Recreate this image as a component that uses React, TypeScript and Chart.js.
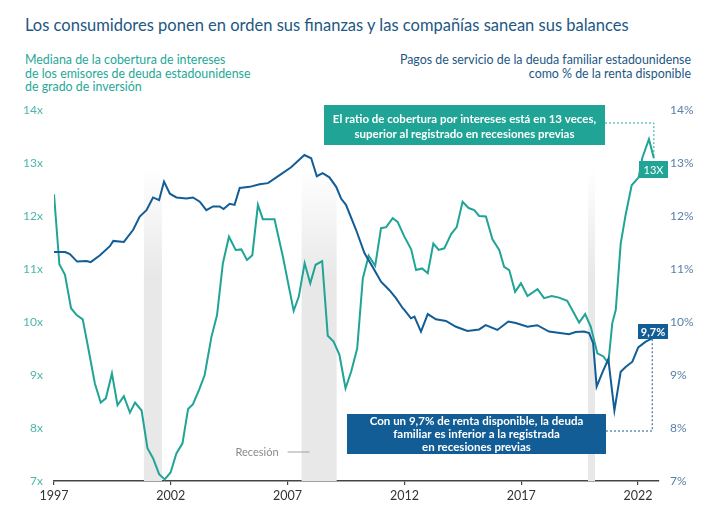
import React, { useEffect, useRef } from "react";
import { Chart, registerables } from "chart.js";

Chart.register(...registerables);

// ---------- DATA ----------
const xTickYears = [1997, 2002, 2007, 2012, 2017, 2022];

// Median interest coverage of US investment-grade issuers (left axis, "x")
const coverageYears = [
  1997.0, 1997.23, 1997.47, 1997.73, 1997.97, 1998.23, 1998.47, 1998.75, 1999.0, 1999.22,
  1999.48, 1999.72, 1999.99, 2000.25, 2000.47, 2000.75, 2001.0, 2001.24, 2001.5, 2001.74,
  2001.99, 2002.24, 2002.5, 2002.74, 2002.95, 2003.21, 2003.45, 2003.74, 2003.98, 2004.23,
  2004.49, 2004.78, 2005.02, 2005.26, 2005.49, 2005.73, 2005.94, 2006.44, 2006.8, 2007.26,
  2007.48, 2007.73, 2007.97, 2008.2, 2008.48, 2008.72, 2008.97, 2009.22, 2009.48, 2009.72,
  2009.98, 2010.22, 2010.47, 2010.75, 2011.0, 2011.22, 2011.5, 2011.71, 2012.0, 2012.29,
  2012.5, 2012.76, 2013.0, 2013.24, 2013.47, 2013.71, 2014.0, 2014.24, 2014.49, 2014.75,
  2014.99, 2015.2, 2015.49, 2015.77, 2016.06, 2016.27, 2016.49, 2016.74, 2016.99, 2017.27,
  2017.7, 2017.98, 2018.31, 2018.62, 2018.97, 2019.48, 2019.74, 2019.98, 2020.26, 2020.52,
  2020.73, 2020.9, 2021.05, 2021.26, 2021.47, 2021.73, 2022.03, 2022.18, 2022.47, 2022.68,
];
const coverageValues = [
  12.41, 11.09, 10.89, 10.26, 10.13, 10.05, 9.5, 8.84, 8.48, 8.56,
  9.03, 8.43, 8.6, 8.29, 8.48, 8.33, 7.62, 7.43, 7.13, 7.03,
  7.16, 7.52, 7.71, 8.36, 8.45, 8.72, 9.0, 9.72, 10.13, 11.11,
  11.61, 11.36, 11.37, 11.17, 11.26, 12.21, 11.94, 11.94, 11.23, 10.21,
  10.48, 11.11, 10.73, 11.08, 11.15, 9.74, 9.63, 9.38, 8.75, 9.06,
  9.5, 10.82, 11.25, 11.06, 11.77, 11.79, 11.96, 11.89, 11.61, 11.37,
  10.98, 11.01, 10.92, 11.48, 11.36, 11.39, 11.66, 11.79, 12.27, 12.15,
  12.11, 12.0, 11.99, 11.56, 11.36, 11.04, 10.98, 10.57, 10.73, 10.49,
  10.62, 10.45, 10.49, 10.46, 10.4, 9.99, 10.15, 9.91, 9.41, 9.35,
  9.22, 9.98, 10.23, 11.48, 12.02, 12.58, 12.73, 13.09, 13.45, 13.09,
];

// US household debt service payments as % of disposable income (right axis, "%")
const debtYears = [
  1997.0, 1997.48, 1997.68, 1997.99, 1998.4, 1998.57, 1998.97, 1999.39, 1999.54, 1999.99,
  2000.39, 2000.67, 2000.96, 2001.24, 2001.5, 2001.71, 2001.96, 2002.24, 2002.67, 2002.95,
  2003.24, 2003.52, 2003.81, 2004.09, 2004.26, 2004.52, 2004.73, 2004.95, 2005.38, 2005.8,
  2006.16, 2006.66, 2007.15, 2007.72, 2008.01, 2008.25, 2008.5, 2008.79, 2009.08, 2009.29,
  2009.5, 2009.93, 2010.29, 2010.64, 2011.0, 2011.36, 2011.64, 2011.93, 2012.0, 2012.28,
  2012.43, 2012.71, 2013.0, 2013.35, 2013.78, 2014.21, 2014.7, 2015.2, 2015.48, 2015.98,
  2016.45, 2016.77, 2017.27, 2017.69, 2018.19, 2019.05, 2019.33, 2019.69, 2019.91, 2020.08,
  2020.23, 2020.47, 2020.73, 2020.99, 2021.26, 2021.47, 2021.76, 2022.01, 2022.33, 2022.61,
];
const debtValues = [
  11.32, 11.32, 11.28, 11.14, 11.15, 11.13, 11.26, 11.43, 11.53, 11.51,
  11.74, 11.99, 12.11, 12.35, 12.3, 12.65, 12.42, 12.35, 12.33, 12.35,
  12.27, 12.11, 12.18, 12.18, 12.13, 12.23, 12.21, 12.53, 12.55, 12.6,
  12.62, 12.77, 12.92, 13.15, 13.09, 12.75, 12.81, 12.73, 12.55, 12.33,
  12.21, 11.74, 11.3, 11.04, 10.76, 10.6, 10.45, 10.26, 10.23, 10.07,
  10.1, 9.82, 10.15, 10.05, 10.02, 9.91, 9.83, 9.86, 9.94, 9.85,
  10.01, 9.98, 9.91, 9.94, 9.82, 9.77, 9.81, 9.82, 9.79, 9.6,
  8.78, 9.04, 9.3, 8.33, 9.06, 9.15, 9.25, 9.52, 9.63, 9.69,
];

const recessionStarts = [2000.85, 2007.6, 2019.86];
const recessionEnds = [2001.62, 2009.1, 2020.16];

const TITLE = "Los consumidores ponen en orden sus finanzas y las compañías sanean sus balances";
const LEFT_SUB = ["Mediana de la cobertura de intereses", "de los emisores de deuda estadounidense", "de grado de inversión"];
const RIGHT_SUB = ["Pagos de servicio de la deuda familiar estadounidense", "como % de la renta disponible"];
const TEAL_NOTE = ["El ratio de cobertura por intereses está en 13 veces,", "superior al registrado en recesiones previas"];
const BLUE_NOTE = ["Con un 9,7% de renta disponible, la deuda", "familiar es inferior a la registrada", "en recesiones previas"];
const TEAL_TAG = "13X";
const BLUE_TAG = "9,7%";
const RECESSION_LABEL = "Recesión";

const TEAL = "#1fa495";
const BLUE = "#135d96";
const FONT = "Lato, 'Open Sans', sans-serif";

const overlayPlugin = {
  id: "overlay",
  beforeDatasetsDraw(chart: any) {
    const { ctx, chartArea, scales } = chart;
    const xs = scales.x;
    ctx.save();
    recessionStarts.forEach((s, i) => {
      const x1 = xs.getPixelForValue(s);
      const x2 = xs.getPixelForValue(recessionEnds[i]);
      const top = chartArea.top + 58;
      const g = ctx.createLinearGradient(0, top, 0, top + 110);
      g.addColorStop(0, "rgba(232,232,232,0)");
      g.addColorStop(1, "rgba(232,232,232,1)");
      ctx.fillStyle = g;
      ctx.fillRect(x1, top, x2 - x1, chartArea.bottom - top);
    });
    // recession label
    const bx = xs.getPixelForValue(recessionStarts[1]);
    const ly = chartArea.bottom - 29;
    ctx.strokeStyle = "#a0a0a0";
    ctx.lineWidth = 1;
    ctx.beginPath();
    ctx.moveTo(bx - 14, ly);
    ctx.lineTo(bx + 8, ly);
    ctx.stroke();
    ctx.fillStyle = "#8a8a8a";
    ctx.font = `11px ${FONT}`;
    ctx.textAlign = "right";
    ctx.textBaseline = "middle";
    ctx.fillText(RECESSION_LABEL, bx - 23, ly);
    ctx.restore();
  },
  afterDatasetsDraw(chart: any) {
    const { ctx, scales } = chart;
    const xs = scales.x;
    const yl = scales.y;
    const yr = scales.y1;
    ctx.save();
    // teal note
    const tN = coverageValues.length - 1;
    const tx = xs.getPixelForValue(coverageYears[tN]);
    const ty = yl.getPixelForValue(coverageValues[tN]);
    ctx.fillStyle = TEAL;
    ctx.fillRect(324, 105, 281, 40);
    ctx.fillStyle = "#ffffff";
    ctx.font = `bold 11.5px ${FONT}`;
    ctx.textAlign = "center";
    ctx.textBaseline = "middle";
    ctx.fillText(TEAL_NOTE[0], 464.5, 119);
    ctx.fillText(TEAL_NOTE[1], 464.5, 134);
    ctx.setLineDash([2, 2]);
    ctx.lineWidth = 1;
    ctx.strokeStyle = TEAL;
    ctx.beginPath();
    ctx.moveTo(605, 123);
    ctx.lineTo(tx, 123);
    ctx.lineTo(tx, ty);
    ctx.stroke();
    ctx.setLineDash([]);
    ctx.fillStyle = TEAL;
    ctx.fillRect(639, 161, 29, 17);
    ctx.fillStyle = "#ffffff";
    ctx.font = `11px ${FONT}`;
    ctx.fillText(TEAL_TAG, 653.5, 170);

    // blue note
    const bN = debtValues.length - 1;
    const bx = xs.getPixelForValue(debtYears[bN]);
    const by = yr.getPixelForValue(debtValues[bN]);
    ctx.fillStyle = BLUE;
    ctx.fillRect(347, 414, 259, 40);
    ctx.fillStyle = "#ffffff";
    ctx.font = `bold 11.5px ${FONT}`;
    ctx.fillText(BLUE_NOTE[0], 476.5, 421);
    ctx.fillText(BLUE_NOTE[1], 476.5, 434);
    ctx.fillText(BLUE_NOTE[2], 476.5, 447);
    ctx.setLineDash([2, 2]);
    ctx.strokeStyle = BLUE;
    ctx.beginPath();
    ctx.moveTo(606, 431);
    ctx.lineTo(bx, 431);
    ctx.lineTo(bx, by);
    ctx.stroke();
    ctx.setLineDash([]);
    ctx.fillStyle = BLUE;
    ctx.fillRect(638, 324, 30, 15);
    ctx.fillStyle = "#ffffff";
    ctx.font = `bold 11px ${FONT}`;
    ctx.fillText(BLUE_TAG, 653, 332);
    ctx.restore();
  },
};

export default function App() {
  const ref = useRef<HTMLCanvasElement | null>(null);

  useEffect(() => {
    if (!ref.current) return;
    const chart = new Chart(ref.current, {
      type: "line",
      data: {
        datasets: [
          {
            label: "Deuda",
            data: debtYears.map((x, i) => ({ x, y: debtValues[i] })),
            yAxisID: "y1",
            borderColor: BLUE,
            borderWidth: 2,
            pointRadius: 0,
            tension: 0,
            fill: false,
          },
          {
            label: "Cobertura",
            data: coverageYears.map((x, i) => ({ x, y: coverageValues[i] })),
            yAxisID: "y",
            borderColor: TEAL,
            borderWidth: 2,
            pointRadius: 0,
            tension: 0,
            fill: false,
          },
        ],
      },
      options: {
        responsive: false,
        animation: false,
        events: [],
        layout: { padding: { top: 110, left: 0, right: 0, bottom: 0 } },
        plugins: { legend: { display: false }, tooltip: { enabled: false } },
        scales: {
          x: {
            type: "linear",
            min: 1997,
            max: 2022.9,
            afterBuildTicks: (s: any) => {
              s.ticks = xTickYears.map((v) => ({ value: v }));
            },
            afterFit: (s: any) => {
              s.height = 50;
            },
            grid: { drawOnChartArea: false, drawTicks: true, tickLength: 4, color: "#444", lineWidth: 1.2 },
            border: { display: true, color: "#444", width: 1.5 },
            ticks: {
              callback: (v: any) => String(v),
              color: "#333",
              font: { family: FONT, size: 12.5 },
              padding: 3,
              maxRotation: 0,
              autoSkip: false,
            },
          },
          y: {
            position: "left",
            min: 7,
            max: 14,
            afterFit: (s: any) => {
              s.width = 54;
            },
            grid: { display: false, drawTicks: false },
            border: { display: false },
            ticks: {
              stepSize: 1,
              callback: (v: any) => v + "x",
              color: "#4db6ab",
              font: { family: FONT, size: 12 },
              padding: 11,
            },
          },
          y1: {
            position: "right",
            min: 7,
            max: 14,
            afterFit: (s: any) => {
              s.width = 65;
            },
            grid: { display: false, drawTicks: false },
            border: { display: false },
            ticks: {
              stepSize: 1,
              callback: (v: any) => v + "%",
              color: "#5a80a8",
              font: { family: FONT, size: 12 },
              padding: 11,
            },
          },
        },
      },
      plugins: [overlayPlugin],
    } as any);
    return () => chart.destroy();
  }, []);

  return (
    <div style={{ position: "absolute", left: 0, top: 0, width: 724, height: 531, background: "#fff", fontFamily: FONT }}>
      <div style={{ position: "absolute", left: 25, top: 14, fontSize: 16.5, lineHeight: "22px", color: "#1d5784", whiteSpace: "nowrap" }}>
        {TITLE}
      </div>
      <div style={{ position: "absolute", left: 25, top: 53, fontSize: 12.4, lineHeight: "13.5px", color: "#26a898", whiteSpace: "nowrap" }}>
        {LEFT_SUB.map((t) => (
          <div key={t}>{t}</div>
        ))}
      </div>
      <div style={{ position: "absolute", right: 33, top: 53, fontSize: 12.4, lineHeight: "13.5px", color: "#1d5784", textAlign: "right", whiteSpace: "nowrap" }}>
        {RIGHT_SUB.map((t) => (
          <div key={t}>{t}</div>
        ))}
      </div>
      <canvas ref={ref} width={724} height={531} style={{ position: "absolute", left: 0, top: 0 }} />
    </div>
  );
}
